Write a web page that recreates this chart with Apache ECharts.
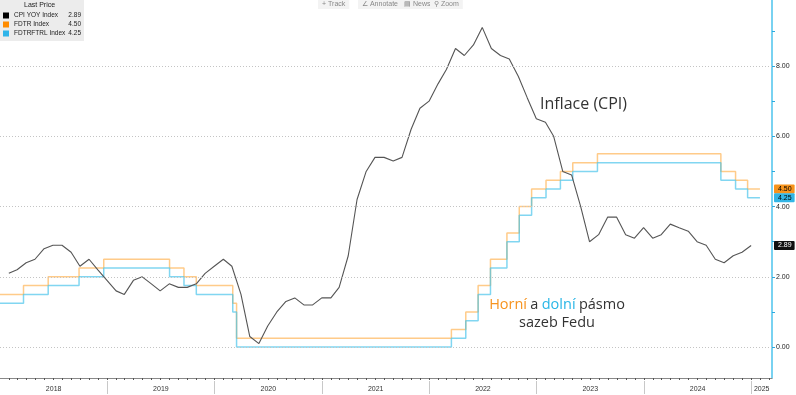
<!DOCTYPE html>
<html><head><meta charset="utf-8">
<script src="https://cdn.jsdelivr.net/npm/echarts@6/dist/echarts.min.js"></script>
<style>html,body{margin:0;padding:0;background:#fff}#c{width:796px;height:395px}</style>
</head><body><div id="c"></div>
<script>
// ---- DATA ----
const cpiStartYear = 2018;
const cpiValues = [
  2.1, 2.2, 2.4, 2.5, 2.8, 2.9, 2.9, 2.7, 2.3, 2.5, 2.2, 1.9,
  1.6, 1.5, 1.9, 2.0, 1.8, 1.6, 1.8, 1.7, 1.7, 1.8, 2.1, 2.3,
  2.5, 2.3, 1.5, 0.3, 0.1, 0.6, 1.0, 1.3, 1.4, 1.2, 1.2, 1.4,
  1.4, 1.7, 2.6, 4.2, 5.0, 5.4, 5.4, 5.3, 5.4, 6.2, 6.8, 7.0,
  7.5, 7.9, 8.5, 8.3, 8.6, 9.1, 8.5, 8.3, 8.2, 7.7, 7.1, 6.5,
  6.4, 6.0, 5.0, 4.9, 4.0, 3.0, 3.2, 3.7, 3.7, 3.2, 3.1, 3.4,
  3.1, 3.2, 3.5, 3.4, 3.3, 3.0, 2.9, 2.5, 2.4, 2.6, 2.7, 2.89
];
const fedDates = ['2018-01-01','2018-03-22','2018-06-14','2018-09-27','2018-12-20','2019-08-01','2019-09-19','2019-10-31','2020-03-03','2020-03-16','2022-03-17','2022-05-05','2022-06-16','2022-07-28','2022-09-22','2022-11-03','2022-12-15','2023-02-02','2023-03-23','2023-05-04','2023-07-27','2024-09-19','2024-11-08','2024-12-19','2025-01-30'];
const fedUpper = [1.50,1.75,2.00,2.25,2.50,2.25,2.00,1.75,1.25,0.25,0.50,1.00,1.75,2.50,3.25,4.00,4.50,4.75,5.00,5.25,5.50,5.00,4.75,4.50,4.50];
const fedLower = [1.25,1.50,1.75,2.00,2.25,2.00,1.75,1.50,1.00,0.00,0.25,0.75,1.50,2.25,3.00,3.75,4.25,4.50,4.75,5.00,5.25,4.75,4.50,4.25,4.25];
const seriesNames = ['CPI YOY Index', 'FDTR Index', 'FDTRFTRL Index'];
const yLabelValues = [0, 2, 4, 6, 8];
const yTickValues = [0, 1, 2, 3, 4, 5, 6, 7, 8, 9];
const yearLabels = [2018, 2019, 2020, 2021, 2022, 2023, 2024, 2025];
const xMinDate = '2018-01-01';
const xMaxDate = '2025-03-12';
const yMin = -0.88, yMax = 9.88;

// ---- BUILD ----
const ts = s => Date.parse(s + 'T00:00:00Z');
const xMin = ts(xMinDate), xMax = ts(xMaxDate);
const cpiData = cpiValues.map((v, i) => [Date.UTC(cpiStartYear, i + 1, 0), v]);
const upperData = fedDates.map((d, i) => [ts(d), fedUpper[i]]);
const lowerData = fedDates.map((d, i) => [ts(d), fedLower[i]]);
const lastCpi = cpiValues[cpiValues.length - 1];
const lastUp = fedUpper[fedUpper.length - 1];
const lastLo = fedLower[fedLower.length - 1];
const lastVals = [lastCpi, lastUp, lastLo];

const monthTicks = [];
for (let y = 2018; y <= 2025; y++) for (let m = 0; m < 12; m++) {
  const t = Date.UTC(y, m, 1);
  if (t > xMin && t < xMax) monthTicks.push(t);
}
const yearStarts = yearLabels.slice(1).map(y => Date.UTC(y, 0, 1));
const yearMids = yearLabels.map(y => {
  const a = Math.max(Date.UTC(y, 0, 1), xMin), b = Math.min(Date.UTC(y + 1, 0, 1), xMax);
  return (a + b) / 2;
});

const FONT = 'Liberation Sans';
const ORANGE = '#f7931e', BLUE = '#29b6e6', CPI = '#555555';

function tag(val, bg, fg) {
  return {
    yAxis: val,
    lineStyle: { color: 'rgba(0,0,0,0)', width: 1, opacity: 1 },
    label: {
      show: true, position: 'end', distance: 2, formatter: val.toFixed(2),
      backgroundColor: bg, color: fg, fontSize: 7, fontFamily: FONT,
      padding: [1, 3, 1, 4], borderRadius: 1
    }
  };
}

const chart = echarts.init(document.getElementById('c'), null, { renderer: 'canvas' });
chart.setOption({
  animation: false,
  backgroundColor: '#ffffff',
  grid: { left: 0, right: 24, top: 0, bottom: 17, containLabel: false },
  title: {
    text: 'Last Price', left: 24, top: 2, padding: 0,
    textStyle: { fontSize: 7, fontWeight: 'normal', color: '#222', fontFamily: FONT }
  },
  legend: {
    orient: 'vertical', left: 0, top: 0,
    padding: [12, 3, 4, 3], itemGap: 2, itemWidth: 6, itemHeight: 6,
    backgroundColor: '#ececec', icon: 'rect',
    data: [
      { name: seriesNames[0], itemStyle: { color: '#000', opacity: 1 } },
      { name: seriesNames[1], itemStyle: { color: '#ff8c00', opacity: 1 } },
      { name: seriesNames[2], itemStyle: { color: '#2fb4e9', opacity: 1 } }
    ],
    selectedMode: false,
    formatter: name => `{n|${name}}{v|${lastVals[seriesNames.indexOf(name)].toFixed(2)}}`,
    textStyle: {
      fontSize: 6.5, color: '#222', fontFamily: FONT,
      rich: { n: { width: 54, fontSize: 6.5, fontFamily: FONT, color: '#222' },
              v: { width: 13, align: 'right', fontSize: 6.5, fontFamily: FONT, color: '#222' } }
    }
  },
  xAxis: [
    {
      type: 'value', min: xMin, max: xMax, position: 'bottom',
      axisLine: { show: true, onZero: false, lineStyle: { color: '#888', width: 1 } },
      axisTick: { show: true, customValues: monthTicks, length: 2, lineStyle: { color: '#555' } },
      axisLabel: { show: false },
      splitLine: { show: false }
    },
    {
      type: 'value', min: xMin, max: xMax, position: 'bottom', offset: 3,
      axisLine: { show: false, onZero: false },
      axisTick: { show: true, customValues: yearStarts, length: 13, lineStyle: { color: '#c8c8c8' } },
      axisLabel: {
        show: true, customValues: yearMids, margin: 5, fontSize: 7, color: '#333', fontFamily: FONT,
        formatter: v => String(new Date(v).getUTCFullYear())
      },
      splitLine: { show: false }
    }
  ],
  yAxis: {
    type: 'value', position: 'right', min: yMin, max: yMax,
    axisLine: { show: true, onZero: false, lineStyle: { color: '#4cc3ec', width: 1.5 } },
    axisTick: { show: true, customValues: yTickValues, length: 3, lineStyle: { color: '#29a9e0' } },
    axisLabel: {
      show: true, customValues: yLabelValues, margin: 4, fontSize: 7, color: '#222', fontFamily: FONT,
      formatter: v => v.toFixed(2)
    },
    splitLine: { show: false }
  },
  series: [
    {
      name: seriesNames[1], type: 'line', step: 'end', data: upperData, showSymbol: false,
      color: '#ff8c00', lineStyle: { color: '#ffa83a', width: 1.5, opacity: 0.6 }, z: 2,
      markLine: { silent: true, symbol: 'none', animation: false, data: [tag(lastUp, '#f7941d', '#000')] }
    },
    {
      name: seriesNames[2], type: 'line', step: 'end', data: lowerData, showSymbol: false,
      color: '#2fb4e9', lineStyle: { color: '#3ec0ea', width: 1.5, opacity: 0.65 }, z: 2,
      markLine: { silent: true, symbol: 'none', animation: false, data: [tag(lastLo, '#33b5e5', '#000')] }
    },
    {
      name: seriesNames[0], type: 'line', data: cpiData, showSymbol: false,
      color: '#000', lineStyle: { color: CPI, width: 1.1 }, z: 3,
      markLine: {
        silent: true, symbol: 'none', animation: false,
        data: yLabelValues.map(v => ({
          yAxis: v, label: { show: false },
          lineStyle: { type: [1, 2], color: '#c4c4c4', width: 1 }
        })).concat([tag(lastCpi, '#111', '#fff')])
      }
    }
  ],
  graphic: [
    {
      type: 'text', x: 540, y: 96, z: 10,
      style: { text: 'Inflace (CPI)', fontSize: 16, fontFamily: 'Open Sans', fill: '#333' }
    },
    {
      type: 'text', x: 557, y: 296, z: 10,
      style: {
        text: '{o|Horní} {d|a} {b|dolní} {d|pásmo}\n{d|sazeb Fedu}',
        align: 'center', verticalAlign: 'top',
        rich: {
          o: { fontSize: 14.5, fontFamily: 'Open Sans', fill: ORANGE, lineHeight: 18, align: 'center' },
          b: { fontSize: 14.5, fontFamily: 'Open Sans', fill: BLUE, lineHeight: 18, align: 'center' },
          d: { fontSize: 14.5, fontFamily: 'Open Sans', fill: '#333', lineHeight: 18, align: 'center' }
        }
      }
    },
    {
      type: 'group', x: 318, y: 0, z: 10,
      children: [
        { type: 'text', x: 0, y: 0, style: { text: '+ Track', fontSize: 7, fontFamily: FONT, fill: '#888', backgroundColor: '#f3f3f3', padding: [1, 4] } },
        { type: 'text', x: 40, y: 0, style: { text: '∠ Annotate', fontSize: 7, fontFamily: FONT, fill: '#888', backgroundColor: '#f3f3f3', padding: [1, 4] } },
        { type: 'text', x: 82, y: 0, style: { text: '▤ News', fontSize: 7, fontFamily: FONT, fill: '#888', backgroundColor: '#f3f3f3', padding: [1, 4] } },
        { type: 'text', x: 112, y: 0, style: { text: '⚲ Zoom', fontSize: 7, fontFamily: FONT, fill: '#888', backgroundColor: '#f3f3f3', padding: [1, 4] } }
      ]
    }
  ]
});
</script>
</body></html>
